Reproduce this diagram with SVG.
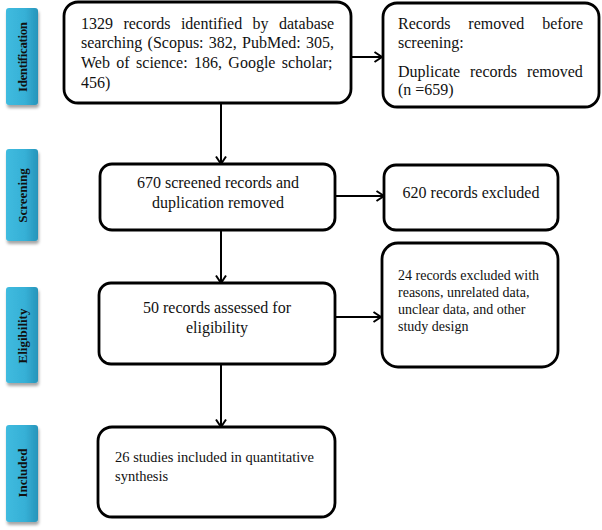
<svg xmlns="http://www.w3.org/2000/svg" width="602" height="530" viewBox="0 0 602 530">
<defs>
<linearGradient id="tab" x1="0" y1="0" x2="1" y2="0">
<stop offset="0" stop-color="#3fbbdf"/>
<stop offset="0.6" stop-color="#36b0d6"/>
<stop offset="1" stop-color="#2794ba"/>
</linearGradient>
<filter id="sh" x="-30%" y="-10%" width="160%" height="125%">
<feDropShadow dx="1" dy="3" stdDeviation="1.5" flood-color="#000" flood-opacity="0.35"/>
</filter>
<marker id="ah" markerUnits="userSpaceOnUse" markerWidth="12" markerHeight="12" viewBox="0 0 12 12" refX="10" refY="6" orient="auto">
<path d="M2.5,1 L10,6 L2.5,11" fill="none" stroke="#000" stroke-width="2"/>
</marker>
<style>
.box{fill:#fff;stroke:#000;stroke-width:2.8}
.tab{fill:url(#tab);filter:url(#sh)}
.lbl{font-family:"Liberation Serif","Times New Roman",serif;font-weight:bold;font-size:13px;fill:#111}
.t{font-family:"Liberation Serif","Times New Roman",serif;font-size:16px;fill:#111}
.s{font-family:"Liberation Serif","Times New Roman",serif;font-size:14px;fill:#111}
.c{text-anchor:middle}
.con{stroke:#000;stroke-width:2;fill:none;marker-end:url(#ah)}
</style>
</defs>
<g id="stage-identification">
<rect class="tab" x="6" y="8" width="32" height="97" rx="3"/>
<text class="lbl c" transform="translate(22,57) rotate(-90)" dominant-baseline="central" textLength="70" lengthAdjust="spacing">Identification</text>
</g>
<g id="stage-screening">
<rect class="tab" x="6" y="149" width="32" height="92" rx="3"/>
<text class="lbl c" transform="translate(22,195.5) rotate(-90)" dominant-baseline="central">Screening</text>
</g>
<g id="stage-eligibility">
<rect class="tab" x="6" y="287" width="32" height="96" rx="3"/>
<text class="lbl c" transform="translate(22,336) rotate(-90)" dominant-baseline="central">Eligibility</text>
</g>
<g id="stage-included">
<rect class="tab" x="6" y="425" width="32" height="97" rx="3"/>
<text class="lbl c" transform="translate(22,473) rotate(-90)" dominant-baseline="central">Included</text>
</g>
<g id="connectors">
<line class="con" x1="351" y1="57" x2="382" y2="57"/>
<line class="con" x1="221" y1="103" x2="221" y2="164"/>
<line class="con" x1="335" y1="196" x2="384" y2="196"/>
<line class="con" x1="221" y1="231" x2="221" y2="283"/>
<line class="con" x1="335" y1="317" x2="381" y2="317"/>
<line class="con" x1="221" y1="364" x2="221" y2="427"/>
</g>
<g id="identified">
<rect class="box" x="64" y="2" width="287" height="101" rx="14"/>
<text class="t" x="81" y="29" word-spacing="6.4">1329 records identified by database</text>
<text class="t" x="81" y="48" word-spacing="1.25">searching (Scopus: 382, PubMed: 305,</text>
<text class="t" x="81" y="68" word-spacing="2.4">Web of science: 186, Google scholar;</text>
<text class="t" x="81" y="88">456)</text>
</g>
<g id="removed-before-screening">
<rect class="box" x="383" y="3" width="216" height="104" rx="14"/>
<text class="t" x="398" y="29" word-spacing="13.9">Records removed before</text>
<text class="t" x="398" y="48">screening:</text>
<text class="t" x="398" y="77" word-spacing="5.8">Duplicate records removed</text>
<text class="t" x="398" y="95">(n =659)</text>
</g>
<g id="screened">
<rect class="box" x="100" y="164" width="235" height="66" rx="12"/>
<text class="t c" x="218" y="188">670 screened records and</text>
<text class="t c" x="218" y="208">duplication removed</text>
</g>
<g id="excluded-620">
<rect class="box" x="384" y="165" width="174" height="65" rx="12"/>
<text class="t c" x="471" y="198">620 records excluded</text>
</g>
<g id="assessed">
<rect class="box" x="99" y="283" width="236" height="81" rx="12"/>
<text class="t c" x="217" y="313">50 records assessed for</text>
<text class="t c" x="217" y="333">eligibility</text>
</g>
<g id="excluded-24">
<rect class="box" x="382" y="243" width="176" height="124" rx="16"/>
<text class="s" x="398" y="280">24 records excluded with</text>
<text class="s" x="398" y="297">reasons, unrelated data,</text>
<text class="s" x="398" y="314">unclear data, and other</text>
<text class="s" x="398" y="331">study design</text>
</g>
<g id="included">
<rect class="box" x="98" y="427" width="237" height="90" rx="14"/>
<text class="s" x="115" y="462" style="font-size:14.5px">26 studies included in quantitative</text>
<text class="s" x="115" y="481" style="font-size:14.5px">synthesis</text>
</g>
</svg>
